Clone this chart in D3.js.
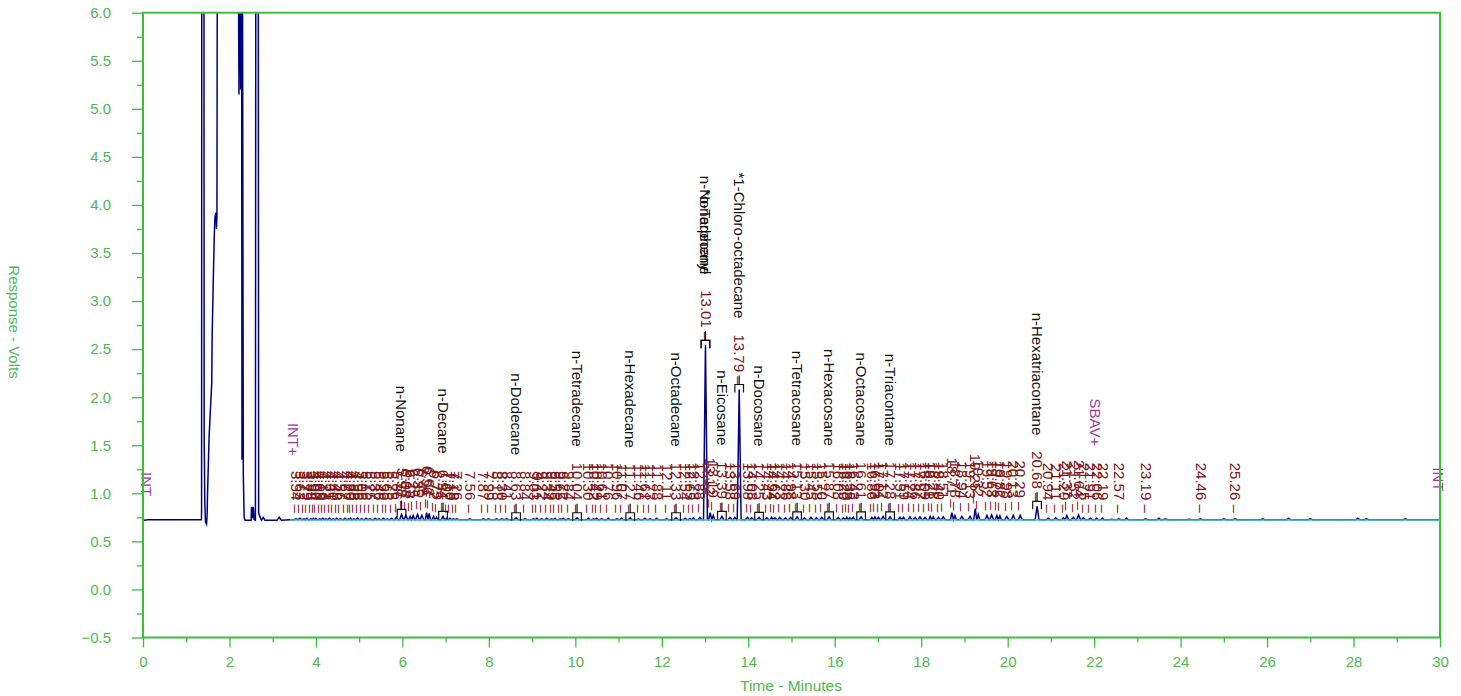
<!DOCTYPE html>
<html>
<head>
  <meta charset="utf-8">
  <script src="https://d3js.org/d3.v7.min.js"></script>
  <style>
    body { margin: 0; background: #fff; }
    text { font-family: Arial, "Liberation Sans", sans-serif; }
  </style>
</head>
<body>
  <div id="chart"></div>
  <script>
  // --- data ---
  // solvent front, explicit trace points (minutes, volts); 7 = off scale
  var solventTimes = [0, 0.05, 0.1, 1.35, 1.355, 1.36, 1.41, 1.415, 1.43, 1.445, 1.47, 1.485, 1.49, 1.53, 1.59, 1.60, 1.625, 1.65, 1.665, 1.69, 1.70, 1.71, 1.72,
    2.20, 2.22, 2.24, 2.26, 2.28, 2.29, 2.30, 2.32, 2.34, 2.36, 2.50, 2.51, 2.53, 2.55, 2.57, 2.60, 2.61, 2.665, 2.675, 2.70, 2.74, 2.78, 2.82, 3.10, 3.15, 3.20, 3.40];
  var solventVolts = [0.725, 0.72, 0.725, 0.725, 0.80, 7, 7, 1.6, 0.90, 0.70, 0.68, 0.80, 0.95, 1.6, 2.15, 2.65, 3.2, 3.7, 3.88, 3.92, 3.75, 3.9, 7,
    7, 5.15, 7, 5.2, 7, 1.35, 6.9, 1.2, 0.75, 0.72, 0.72, 0.86, 0.74, 0.86, 0.73, 0.72, 7, 7, 0.80, 0.76, 0.72, 0.75, 0.72, 0.72, 0.75, 0.72, 0.725];

  // integrated peaks: retention time and apex
  var peakTimes = [3.54, 3.63, 3.72, 3.79, 3.88, 3.94, 4.00, 4.09, 4.16, 4.23, 4.31, 4.40, 4.48, 4.56, 4.67, 4.75, 4.80, 4.88, 4.96, 5.06,
    5.16, 5.25, 5.37, 5.46, 5.56, 5.65, 5.75, 5.86, 5.98, 6.08, 6.18, 6.25, 6.35, 6.45, 6.56, 6.62, 6.72, 6.79, 6.94, 7.02,
    7.10, 7.18, 7.26, 7.56, 7.87, 7.99, 8.18, 8.30, 8.41, 8.63, 8.84, 9.03, 9.11, 9.22, 9.34, 9.45, 9.53, 9.65, 9.72, 9.84,
    10.04, 10.30, 10.42, 10.49, 10.61, 10.76, 10.96, 11.07, 11.27, 11.46, 11.61, 11.73, 11.88, 12.11, 12.33, 12.54, 12.65, 12.73, 12.88, 13.01,
    13.12, 13.19, 13.39, 13.58, 13.69, 13.79, 13.98, 14.08, 14.25, 14.43, 14.54, 14.62, 14.73, 14.86, 14.98, 15.13, 15.30, 15.45, 15.58, 15.70,
    15.87, 16.08, 16.20, 16.28, 16.35, 16.43, 16.61, 16.86, 16.93, 17.01, 17.12, 17.28, 17.51, 17.59, 17.74, 17.86, 17.97, 18.09, 18.21, 18.28,
    18.40, 18.51, 18.71, 18.78, 18.94, 19.13, 19.25, 19.32, 19.52, 19.63, 19.75, 19.82, 19.98, 20.13, 20.29, 20.68, 20.94, 21.11, 21.29, 21.37,
    21.52, 21.64, 21.75, 21.91, 22.06, 22.19, 22.57, 23.19, 24.46, 25.26];
  var peakVolts = [0.735, 0.74, 0.735, 0.74, 0.735, 0.74, 0.74, 0.735, 0.74, 0.735, 0.74, 0.735, 0.74, 0.735, 0.74, 0.735, 0.74, 0.735, 0.74, 0.735,
    0.74, 0.735, 0.74, 0.735, 0.74, 0.735, 0.74, 0.75, 0.78, 0.77, 0.76, 0.77, 0.78, 0.77, 0.80, 0.79, 0.76, 0.75, 0.76, 0.74,
    0.74, 0.735, 0.735, 0.735, 0.735, 0.735, 0.735, 0.735, 0.735, 0.745, 0.735, 0.735, 0.74, 0.735, 0.74, 0.735, 0.74, 0.735, 0.74, 0.735,
    0.745, 0.74, 0.735, 0.74, 0.735, 0.74, 0.735, 0.74, 0.745, 0.735, 0.74, 0.735, 0.74, 0.735, 0.745, 0.74, 0.74, 0.745, 0.75, 2.54,
    0.80, 0.77, 0.76, 0.75, 0.75, 2.08, 0.75, 0.745, 0.75, 0.745, 0.75, 0.745, 0.75, 0.745, 0.75, 0.755, 0.745, 0.75, 0.745, 0.75,
    0.755, 0.75, 0.745, 0.75, 0.745, 0.75, 0.755, 0.75, 0.755, 0.75, 0.76, 0.755, 0.75, 0.75, 0.755, 0.75, 0.755, 0.75, 0.76, 0.755,
    0.75, 0.755, 0.80, 0.77, 0.76, 0.76, 0.84, 0.78, 0.77, 0.775, 0.77, 0.765, 0.76, 0.77, 0.77, 0.865, 0.74, 0.745, 0.745, 0.77,
    0.75, 0.775, 0.745, 0.74, 0.74, 0.74, 0.735, 0.735, 0.735, 0.735];

  // small unlabeled wiggles late in the run
  var bumpTimes = [22.40, 22.75, 23.50, 23.65, 24.20, 25.00, 25.90, 26.50, 27.00, 28.10, 28.30, 29.20];
  var bumpVolts = [0.73, 0.74, 0.74, 0.735, 0.73, 0.735, 0.735, 0.74, 0.735, 0.74, 0.735, 0.735];

  // identified components
  var namedTimes = [5.98, 6.94, 8.63, 10.04, 11.27, 12.33, 13.01, 13.01, 13.39, 13.79, 14.25, 15.13, 15.87, 16.61, 17.28, 20.68];
  var namedLabels = ["n-Nonane", "n-Decane", "n-Dodecane", "n-Tetradecane", "n-Hexadecane", "n-Octadecane", "n-Nonadecane", "*o-Terphenyl",
    "n-Eicosane", "*1-Chloro-octadecane", "n-Docosane", "n-Tetracosane", "n-Hexacosane", "n-Octacosane", "n-Triacontane", "n-Hexatriacontane"];

  // integration events (label bottom in volts)
  var eventTimes = [0.07, 3.47, 22.02, 29.95];
  var eventLabels = ["INT", "INT+", "SBAV+", "INT"];
  var eventVolts = [0.97, 1.39, 1.49, 1.02];

  var baseVolts = 0.725;
  var xTicks = d3.range(0, 31, 2);
  var xMinor = d3.range(1, 30, 2);
  var yTicks = d3.range(-0.5, 6.01, 0.5);
  var yMinor = d3.range(-0.25, 6, 0.5);

  var W = 1461, H = 696;
  var margin = { left: 143, right: 21, top: 13, bottom: 58 };
  var green = "#3cc03c", greenText = "#4fba4f";

  var svg = d3.select("#chart").append("svg")
      .attr("width", W)
      .attr("height", H);

  var x = d3.scaleLinear().domain([0, 30]).range([margin.left, W - margin.right]);
  var y = d3.scaleLinear().domain([-0.5, 6]).range([H - margin.bottom - 0.5, margin.top - 0.3]);

  svg.append("clipPath").attr("id", "plot")
    .append("rect")
      .attr("x", x(0)).attr("y", y(6))
      .attr("width", x(30) - x(0)).attr("height", y(-0.5) - y(6));

  // build trace: solvent points then peaks as narrow triangles
  var trace = solventTimes.map(function(t, i) { return [t, solventVolts[i]]; });
  var peaks = peakTimes.map(function(t, i) { return [t, peakVolts[i]]; })
      .concat(bumpTimes.map(function(t, i) { return [t, bumpVolts[i]]; }))
      .sort(function(a, b) { return a[0] - b[0]; });
  peaks.forEach(function(p, i) {
    var prev = i > 0 ? p[0] - peaks[i - 1][0] : 1;
    var next = i < peaks.length - 1 ? peaks[i + 1][0] - p[0] : 1;
    var w = Math.min(0.045, prev / 2, next / 2);
    trace.push([p[0] - w, baseVolts], [p[0], p[1]], [p[0] + w, baseVolts]);
  });
  trace.push([30, baseVolts]);

  var line = d3.line().x(function(d) { return x(d[0]); }).y(function(d) { return y(d[1]); });

  var plot = svg.append("g").attr("clip-path", "url(#plot)");
  plot.append("path")
      .datum(trace)
      .attr("d", line)
      .attr("fill", "none")
      .attr("stroke", "#00007f")
      .attr("stroke-width", 1.5);

  // baseline drawn by the integrator
  plot.append("path")
      .datum([[3.4, baseVolts - 0.003], [30, baseVolts - 0.003]])
      .attr("d", line)
      .attr("stroke", "#3cc6c6")
      .attr("stroke-width", 1.6);

  // retention time labels
  function labelEnd(v) { return Math.min(y(v) - 5, y(baseVolts) - 7); }
  var rtLen = {};
  svg.append("g").selectAll("text")
      .data(peakTimes)
    .enter().append("text")
      .attr("transform", function(d, i) { return "translate(" + x(d) + "," + labelEnd(peakVolts[i]) + ") rotate(90)"; })
      .attr("text-anchor", "end")
      .attr("dy", "0.32em")
      .attr("font-size", 15)
      .attr("fill", "#7e1414")
      .text(function(d) { return d.toFixed(2) + " \u2013"; })
      .each(function(d) { rtLen[d.toFixed(2)] = this.getComputedTextLength(); });

  // names and brackets
  var g = svg.append("g");
  namedTimes.forEach(function(t, k) {
    var i = peakTimes.indexOf(t);
    var end = labelEnd(peakVolts[i]);
    g.append("text")
        .attr("transform", "translate(" + x(t) + "," + (end - rtLen[t.toFixed(2)] - 16) + ") rotate(90)")
        .attr("text-anchor", "end")
        .attr("dy", "0.35em")
        .attr("font-size", 15)
        .attr("fill", "#111")
        .text(namedLabels[k]);
    g.append("path")
        .attr("d", "M" + x(t) + "," + (end - 9) + "V" + end +
          "M" + x(t - 0.1) + "," + (end + 8) + "V" + end + "H" + x(t + 0.1) + "V" + (end + 8))
        .attr("fill", "none")
        .attr("stroke", "#111")
        .attr("stroke-width", 1.2);
  });

  // integration events
  svg.append("g").selectAll("text")
      .data(eventTimes)
    .enter().append("text")
      .attr("transform", function(d, i) { return "translate(" + x(d) + "," + y(eventVolts[i]) + ") rotate(90)"; })
      .attr("text-anchor", "end")
      .attr("dy", "0.35em")
      .attr("font-size", 15)
      .attr("fill", "#9a3a9a")
      .text(function(d, i) { return eventLabels[i]; });

  // axes
  svg.append("g")
      .attr("transform", "translate(" + x(0) + ",0)")
      .call(d3.axisLeft(y).tickValues(yTicks).tickSize(11).tickPadding(21).tickFormat(d3.format(".1f")));
  svg.append("g")
      .attr("transform", "translate(" + x(0) + ",0)")
      .call(d3.axisLeft(y).tickValues(yMinor).tickSize(6).tickFormat(""));
  svg.append("g")
      .attr("transform", "translate(0," + y(-0.5) + ")")
      .call(d3.axisBottom(x).tickValues(xTicks).tickSize(10).tickPadding(9));
  svg.append("g")
      .attr("transform", "translate(0," + y(-0.5) + ")")
      .call(d3.axisBottom(x).tickValues(xMinor).tickSize(5).tickFormat(""));

  svg.selectAll(".domain").remove();
  svg.selectAll(".tick line").attr("stroke", green).attr("stroke-width", 1.3);
  svg.selectAll(".tick text").attr("fill", greenText).attr("font-size", 15)
      .attr("font-family", "Arial, 'Liberation Sans', sans-serif");

  // frame
  svg.append("rect")
      .attr("x", x(0)).attr("y", y(6))
      .attr("width", x(30) - x(0)).attr("height", y(-0.5) - y(6))
      .attr("fill", "none")
      .attr("stroke", green)
      .attr("stroke-width", 2);

  svg.append("text")
      .attr("transform", "translate(" + 14 + "," + 322 + ") rotate(90)")
      .attr("text-anchor", "middle")
      .attr("dy", "0.35em")
      .attr("font-size", 15)
      .attr("fill", greenText)
      .text("Response - Volts");

  svg.append("text")
      .attr("x", 791)
      .attr("y", 691)
      .attr("text-anchor", "middle")
      .attr("font-size", 15.5)
      .attr("fill", greenText)
      .text("Time - Minutes");
  </script>
</body>
</html>
